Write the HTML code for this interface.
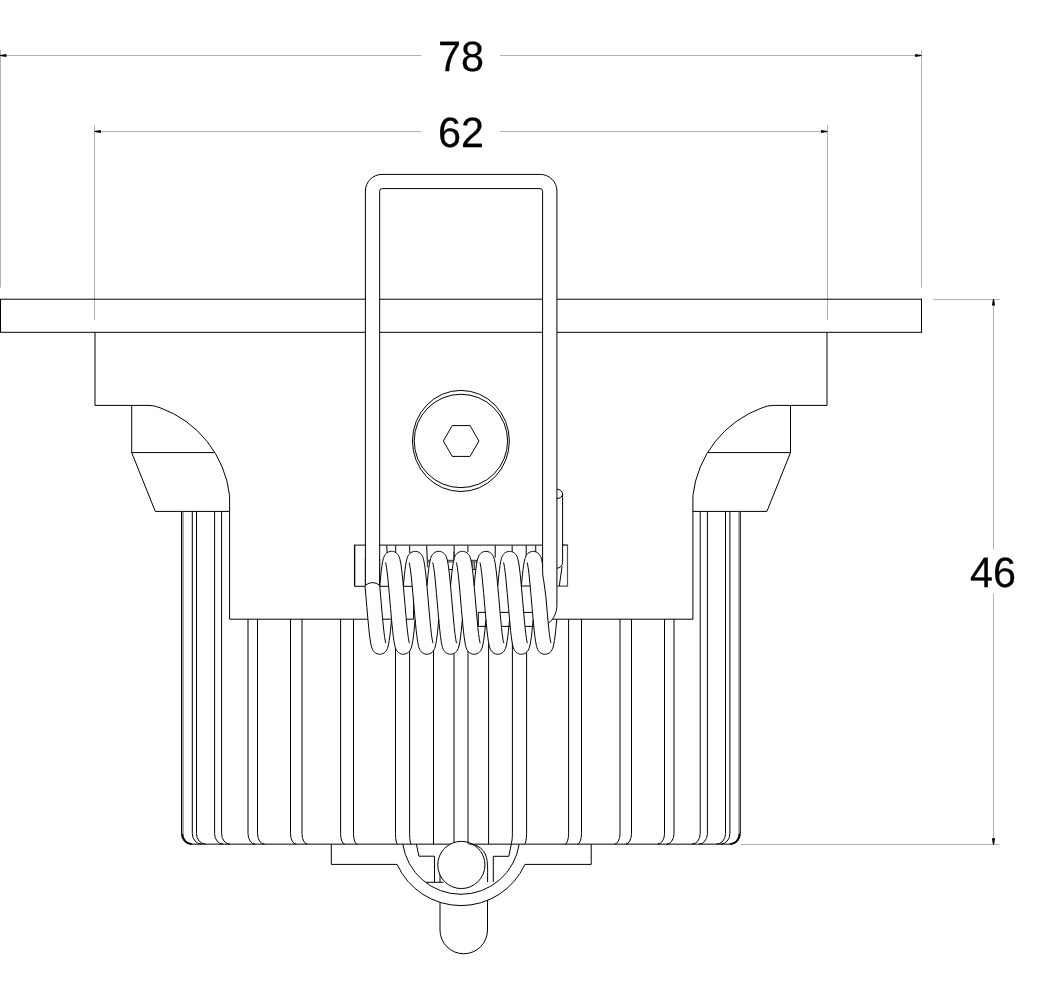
<!DOCTYPE html>
<html><head><meta charset="utf-8"><title>Drawing</title><style>
html,body{margin:0;padding:0;background:#fff;width:1043px;height:981px;overflow:hidden}
svg{display:block}
svg{will-change:transform}
.m{fill:none;stroke:#000;stroke-width:1}
.s{fill:none;stroke:#000;stroke-width:1;stroke-linejoin:round}
.mw{fill:#fff;stroke:#000;stroke-width:1}
.k{fill:none;stroke:#3a3a3a;stroke-width:1.3}
.g{fill:none;stroke:#505050;stroke-width:1.2}
.m2{fill:none;stroke:#000;stroke-width:1.6}
.g2{fill:none;stroke:#555;stroke-width:1}
.d{fill:none;stroke:#b2b2b2;stroke-width:1}
.a{fill:#000;stroke:none}
.w{fill:#fff;stroke:none}
.cov{fill:none;stroke:#fff;stroke-width:14.7;stroke-linecap:round;stroke-linejoin:round}
.t{font-family:"Liberation Sans",sans-serif;font-size:42.4px;text-rendering:geometricPrecision;fill:#000;stroke:#000;stroke-width:0.25px}
</style></head>
<body><svg width="1043" height="981" viewBox="0 0 1043 981">
<rect class="w" x="0" y="0" width="1043" height="981"/>
<path class="d" d="M1 55.5L421.4 55.5"/>
<path class="d" d="M499.9 55.5L921.5 55.5"/>
<path class="d" d="M0.5 50L0.5 287.5"/>
<path class="d" d="M921.5 50L921.5 287.5"/>
<path class="a" d="M0.1 56.1L6.4 57.05L6.4 53.95L0.1 54.9Z"/>
<path class="a" d="M921.4 54.9L915.1 53.95L915.1 57.05L921.4 56.1Z"/>
<path class="d" d="M94.5 131.5L421.4 131.5"/>
<path class="d" d="M499.9 131.5L827.5 131.5"/>
<path class="d" d="M94.5 125.2L94.5 320"/>
<path class="d" d="M827.5 125.2L827.5 320"/>
<path class="a" d="M94.6 132.1L100.9 133.05L100.9 129.95L94.6 130.9Z"/>
<path class="a" d="M827.4 130.9L821.1 129.95L821.1 133.05L827.4 132.1Z"/>
<path class="d" d="M993.5 299.5L993.5 549.5"/>
<path class="d" d="M993.5 593.3L993.5 844.5"/>
<path class="d" d="M933.3 299.5L999.8 299.5"/>
<path class="d" d="M740.5 844.5L999.3 844.5"/>
<path class="a" d="M992.9 299.3L991.95 305.6L995.05 305.6L994.1 299.3Z"/>
<path class="a" d="M994.1 844.6L995.05 838.3L991.95 838.3L992.9 844.6Z"/>
<text class="t" transform="translate(461.1 71.2) scale(0.976 1)" text-anchor="middle">78</text>
<text class="t" transform="translate(460.9 147.45) scale(0.976 1)" text-anchor="middle">62</text>
<text class="t" transform="translate(992.9 587.4) scale(0.976 1)" text-anchor="middle">46</text>
<rect class="m" x="0.5" y="299.2" width="921.0" height="33.10000000000002"/>
<path class="m" d="M95 332.3L95 405.4L149 405.4"/>
<path class="m" d="M149 405.4Q154.5 405.4 160 407.74A106.2 106.2 0 0 1 229.6 495.5"/>
<path class="m" d="M229.6 495.5L229.6 619.2"/>
<path class="m" d="M131.7 405.4L131.7 452.6L214.3 452.6"/>
<path class="m" d="M131.7 452.6L155.3 511.4L229.6 511.4"/>
<path class="m" d="M827 332.3L827 405.4L773.2 405.4"/>
<path class="m" d="M773.2 405.4Q767.7 405.4 762.2 407.74A106.2 106.2 0 0 0 692.9 495.5"/>
<path class="m" d="M692.9 495.5L692.9 619.2"/>
<path class="m" d="M790.5 405.4L790.5 452.6L707.9 452.6"/>
<path class="m" d="M790.5 452.6L766.9 511.4L692.6 511.4"/>
<path class="m" d="M229.6 619.2L692.9 619.2"/>
<path class="m" d="M181.5 511.5V833.55A9.6 10.6 0 0 0 191.1 844.15"/>
<path class="g2" d="M183 511.5V833.55A9.55 10.6 0 0 0 192.55 844.15"/>
<path class="m" d="M192.3 511.5V833.55A9.23 10.6 0 0 0 201.53 844.15"/>
<path class="m" d="M196.5 511.5V833.55A9.08 10.6 0 0 0 205.58 844.15"/>
<path class="m" d="M214.6 511.5V833.55A8.46 10.6 0 0 0 223.06 844.15"/>
<path class="m" d="M221.6 511.5V833.55A8.22 10.6 0 0 0 229.82 844.15"/>
<path class="m" d="M248 619.2V833.55A7.32 10.6 0 0 0 255.32 844.15"/>
<path class="m" d="M257.5 619.2V833.55A6.99 10.6 0 0 0 264.49 844.15"/>
<path class="m" d="M290.5 619.2V833.55A5.86 10.6 0 0 0 296.36 844.15"/>
<path class="m" d="M302 619.2V833.55A5.46 10.6 0 0 0 307.46 844.15"/>
<path class="m" d="M340.6 619.2V833.55A4.14 10.6 0 0 0 344.74 844.15"/>
<path class="m" d="M353.5 619.2V833.55A3.69 10.6 0 0 0 357.19 844.15"/>
<path class="m" d="M395.5 640V833.55A2.25 10.6 0 0 0 397.75 844.15"/>
<path class="m" d="M409.6 640V833.55A1.77 10.6 0 0 0 411.37 844.15"/>
<path class="m" d="M740.3 511.5V833.55A9.59 10.6 0 0 1 730.71 844.15"/>
<path class="g2" d="M739 511.5V833.55A9.54 10.6 0 0 1 729.46 844.15"/>
<path class="m" d="M729.9 511.5V833.55A9.23 10.6 0 0 1 720.67 844.15"/>
<path class="m" d="M725.5 511.5V833.55A9.08 10.6 0 0 1 716.42 844.15"/>
<path class="m" d="M707.4 511.5V833.55A8.46 10.6 0 0 1 698.94 844.15"/>
<path class="m" d="M700.2 511.5V833.55A8.21 10.6 0 0 1 691.99 844.15"/>
<path class="m" d="M674 619.2V833.55A7.31 10.6 0 0 1 666.69 844.15"/>
<path class="m" d="M664.5 619.2V833.55A6.98 10.6 0 0 1 657.52 844.15"/>
<path class="m" d="M631.5 619.2V833.55A5.85 10.6 0 0 1 625.65 844.15"/>
<path class="m" d="M620 619.2V833.55A5.46 10.6 0 0 1 614.54 844.15"/>
<path class="m" d="M581.5 619.2V833.55A4.13 10.6 0 0 1 577.37 844.15"/>
<path class="m" d="M568.6 619.2V833.55A3.69 10.6 0 0 1 564.91 844.15"/>
<path class="m" d="M526.6 640V833.55A2.25 10.6 0 0 1 524.35 844.15"/>
<path class="m" d="M512.4 640V833.55A1.76 10.6 0 0 1 510.64 844.15"/>
<path class="m2" d="M182.1 833.55A9.4 10.4 0 0 0 191.5 843.95"/>
<path class="m2" d="M739.7 833.55A9.4 10.4 0 0 1 730.3 843.95"/>
<path class="m" d="M433.5 640L433.5 844.15"/>
<path class="m" d="M454 640L454 844.15"/>
<path class="m" d="M468 640L468 844.15"/>
<path class="m" d="M488.6 640L488.6 844.15"/>
<path class="m" d="M190.5 844.15L330 844.15"/>
<path class="m" d="M592 844.15L731.5 844.15"/>
<path class="m" d="M440 895V930A23.75 23.75 0 0 0 487.5 930V895"/>
<path class="w" d="M397.07 864.4A70.2 70.2 0 0 0 524.93 864.4L519.2 844.15L402.8 844.15Z"/>
<path class="m" d="M330 844.15L592 844.15"/>
<path class="m" d="M331.3 844.15V864.4H397.07A70.2 70.2 0 0 0 524.93 864.4H591.2V844.15"/>
<path class="m" d="M402.8 844.15A58.85 58.85 0 0 0 519.2 844.15"/>
<path class="m" d="M416.4 844.15L418.9 856.2L434.5 856.2L434.5 882.1"/>
<path class="m" d="M511.3 844.15L508.8 856.3L493.3 856.3L493.3 882"/>
<path class="m" d="M426.4 882.3L443.5 882.3"/>
<path class="m" d="M440 874L440 882.3"/>
<circle class="mw" cx="461.35" cy="864.95" r="23.6"/>
<path class="m" d="M467.7 843.9C468.52 844 470.9 844.1 472.6 844.5C474.3 844.9 476.1 845.25 477.9 846.3C479.7 847.35 481.97 848.92 483.4 850.8C484.83 852.68 485.82 855.13 486.5 857.6C487.18 860.07 487.32 862.87 487.5 865.6C487.68 868.33 487.58 872.6 487.6 874V882"/>
<path class="k" d="M354.6 586.3V545.1H567.5"/>
<path class="g" d="M562.6 545H567.5V586.1H556.9"/>
<path class="m" d="M354.6 586.3L366 586.3"/>
<path class="m" d="M354.6 545L354.6 586.3"/>
<path class="w" d="M556.7 489.2A5.9 4.7 0 0 1 562.6 494V562.4C562.6 566 560 567.8 556.7 568.4Z"/>
<path class="m" d="M556.7 489.2A5.9 4.7 0 0 1 556.7 498.6"/>
<path class="m" d="M562.6 494V562.4C562.6 566 560 567.8 556.7 568.4"/>
<path class="m" d="M562.1 566.3L559.3 585.9"/>
<path class="k" d="M395.6 545L395.6 553"/>
<path class="k" d="M409.6 545L409.6 553"/>
<path class="k" d="M454.2 545L454.2 560.4"/>
<path class="k" d="M467.9 545L467.9 552"/>
<path class="k" d="M495.3 545L495.3 557.6"/>
<path class="k" d="M512.2 545L512.2 553"/>
<path class="k" d="M526.3 545L526.3 556"/>
<path class="k" d="M535.6 545L535.6 553"/>
<path class="k" d="M386.6 545L387.4 556"/>
<path class="k" d="M426.6 545L427.6 567.4"/>
<path class="g" d="M427.3 560.4L431 560.4"/>
<path class="g" d="M427.3 561.9L431 561.9"/>
<path class="g" d="M446 560.4L454 560.4"/>
<path class="g" d="M446 561.9L454 561.9"/>
<path class="m" d="M447 569.5L454 569.5"/>
<path class="g" d="M470 560.4L478 560.4"/>
<path class="g" d="M470 561.9L478 561.9"/>
<path class="m" d="M470 569.5L478 569.5"/>
<path class="g" d="M472.8 562L472.8 569.5"/>
<path class="g" d="M474.5 562L474.5 569.5"/>
<ellipse class="m" cx="460.9" cy="440.95" rx="48.45" ry="50.55"/>
<circle class="m" cx="460.9" cy="440.95" r="46.7"/>
<path class="m" d="M478.95 441L470.05 456.42L452.25 456.42L443.35 441L452.25 425.58L470.05 425.58Z"/>
<path class="w" d="M365.4 586V191A16.6 16.6 0 0 1 382 174.4H540.3A16.6 16.6 0 0 1 556.9 191V605.3C556.9 612 554 619 548.4 623.3L542.6 623V191.2A2.6 2.6 0 0 0 540 188.6H382.25A2.6 2.6 0 0 0 379.65 191.2V586Z"/>
<path class="m" d="M365.4 586V191A16.6 16.6 0 0 1 382 174.4H540.3A16.6 16.6 0 0 1 556.9 191V605.3C556.9 612 554 619 548.4 623.3"/>
<path class="m" d="M542.6 567V191.2A2.6 2.6 0 0 0 540 188.6H382.25A2.6 2.6 0 0 0 379.65 191.2V586"/>
<path class="cov" d="M372.34 585.5L372.56 587.9L372.78 590.36L373 592.86L373.22 595.39L373.44 597.95L373.66 600.52L373.88 603.1L374.1 605.68L374.32 608.25L374.54 610.81L374.76 613.33L374.98 615.82L375.2 618.26L375.42 620.66L375.64 622.99L375.86 625.25L376.08 627.43L376.3 629.53L376.52 631.54L376.74 633.45L376.96 635.25L377.18 636.94L377.4 638.52L377.62 639.97L377.84 641.3L378.06 642.49L378.28 643.55L378.5 644.46L378.72 645.24L378.94 645.87L379.16 646.35L379.38 646.68L379.6 646.86L379.82 646.89L380.04 646.77L380.26 646.5L380.48 646.08L380.7 645.51L380.92 644.79L381.14 643.93L381.36 642.93L381.58 641.79L381.8 640.52L382.02 639.12L382.24 637.59L382.46 635.95L382.68 634.19L382.9 632.32L383.12 630.35L383.34 628.29L383.56 626.14L383.78 623.91L384 621.6L384.22 619.24L384.44 616.81L384.66 614.34L384.88 611.83L385.1 609.29L385.32 606.72L385.54 604.14L385.76 601.56L385.98 598.98L386.2 596.42L386.42 593.88L386.64 591.36L386.86 588.89L387.08 586.46L387.3 584.09L387.52 581.79L387.74 579.55L387.96 577.4L388.18 575.33L388.4 573.36L388.62 571.49L388.84 569.73L389.06 568.07L389.28 566.54L389.5 565.14L389.72 563.86L389.94 562.71L390.16 561.71L390.38 560.84L390.6 560.12L390.82 559.54L391.04 559.11L391.26 558.84L391.48 558.71L391.7 558.73L391.92 558.91L392.14 559.23L392.36 559.71L392.58 560.33L392.8 561.1L393.02 562.01L393.24 563.06L393.46 564.25L393.68 565.57L393.9 567.02L394.12 568.59L394.34 570.28L394.56 572.08L394.78 573.98L395 575.99L395.22 578.08L395.44 580.26L395.66 582.52L395.88 584.85L396.1 587.24L396.32 589.68L396.54 592.16L396.76 594.69L396.98 597.24L397.2 599.81L397.42 602.39L397.64 604.97L397.86 607.55L398.08 610.11L398.3 612.64L398.52 615.14L398.74 617.6L398.96 620L399.18 622.35L399.4 624.63L399.62 626.84L399.84 628.96L400.06 630.99L400.27 632.93L400.49 634.76L400.71 636.49L400.93 638.09L401.15 639.58L401.37 640.94L401.59 642.17L401.81 643.27L402.03 644.22L402.25 645.04L402.47 645.71L402.69 646.23L402.91 646.6L403.13 646.83L403.35 646.9L403.57 646.82L403.79 646.59L404.01 646.21L404.23 645.68L404.45 645.01L404.67 644.18L404.89 643.22L405.11 642.12L405.33 640.88L405.55 639.52L405.77 638.02L405.99 636.41L406.21 634.68L406.43 632.84L406.65 630.9L406.87 628.87L407.09 626.74L407.31 624.53L407.53 622.25L407.75 619.9L407.97 617.49L408.19 615.03L408.41 612.53L408.63 609.99L408.85 607.43L409.07 604.86L409.29 602.27L409.51 599.69L409.73 597.12L409.95 594.57L410.17 592.05L410.39 589.57L410.61 587.13L410.83 584.74L411.05 582.42L411.27 580.16L411.49 577.99L411.71 575.89L411.93 573.9L412.15 572L412.37 570.2L412.59 568.52L412.81 566.95L413.03 565.51L413.25 564.2L413.47 563.01L413.69 561.97L413.91 561.06L414.13 560.3L414.35 559.69L414.57 559.22L414.79 558.9L415.01 558.73L415.23 558.71L415.45 558.84L415.67 559.13L415.89 559.56L416.11 560.15L416.33 560.87L416.55 561.75L416.77 562.76L416.99 563.91L417.21 565.2L417.43 566.61L417.65 568.15L417.87 569.8L418.09 571.57L418.31 573.45L418.53 575.42L418.75 577.49L418.97 579.65L419.19 581.89L419.41 584.2L419.63 586.57L419.85 589L420.07 591.47L420.29 593.99L420.51 596.53L420.73 599.1L420.95 601.68L421.17 604.26L421.39 606.84L421.61 609.4L421.83 611.94L422.05 614.45L422.27 616.92L422.49 619.34L422.71 621.71L422.93 624.01L423.15 626.23L423.37 628.38L423.59 630.44L423.81 632.4L424.03 634.27L424.25 636.02L424.47 637.66L424.69 639.18L424.91 640.58L425.13 641.85L425.35 642.98L425.57 643.97L425.79 644.83L426.01 645.54L426.23 646.1L426.45 646.52L426.67 646.78L426.89 646.9L427.11 646.86L427.33 646.67L427.55 646.33L427.77 645.84L427.99 645.21L428.21 644.43L428.43 643.5L428.65 642.44L428.87 641.24L429.09 639.91L429.31 638.45L429.53 636.87L429.75 635.17L429.97 633.36L430.19 631.45L430.41 629.44L430.63 627.33L430.85 625.15L431.07 622.88L431.29 620.55L431.51 618.16L431.73 615.71L431.95 613.22L432.17 610.69L432.39 608.14L432.61 605.57L432.83 602.99L433.05 600.41L433.27 597.83L433.49 595.28L433.71 592.75L433.93 590.25L434.15 587.8L434.37 585.39L434.59 583.05L434.81 580.78L435.03 578.58L435.25 576.46L435.47 574.44L435.69 572.51L435.91 570.69L436.13 568.97L436.35 567.37L436.57 565.9L436.79 564.55L437.01 563.33L437.23 562.24L437.45 561.3L437.67 560.5L437.89 559.84L438.11 559.33L438.33 558.97L438.55 558.76L438.77 558.7L438.99 558.79L439.21 559.04L439.43 559.43L439.65 559.97L439.87 560.66L440.09 561.49L440.31 562.47L440.53 563.58L440.75 564.83L440.97 566.21L441.19 567.71L441.41 569.33L441.63 571.07L441.85 572.92L442.07 574.87L442.29 576.91L442.51 579.05L442.73 581.26L442.95 583.55L443.17 585.91L443.39 588.32L443.61 590.79L443.83 593.29L444.05 595.83L444.27 598.39L444.49 600.96L444.71 603.55L444.93 606.13L445.15 608.7L445.37 611.24L445.59 613.76L445.81 616.24L446.03 618.68L446.25 621.06L446.47 623.38L446.69 625.63L446.91 627.8L447.13 629.88L447.35 631.87L447.57 633.76L447.79 635.55L448.01 637.22L448.23 638.78L448.45 640.21L448.67 641.51L448.89 642.68L449.11 643.71L449.33 644.61L449.55 645.36L449.77 645.96L449.99 646.42L450.21 646.72L450.43 646.88L450.65 646.88L450.87 646.74L451.09 646.44L451.31 645.99L451.53 645.4L451.75 644.66L451.97 643.77L452.19 642.75L452.41 641.58L452.63 640.29L452.85 638.86L453.07 637.32L453.29 635.65L453.51 633.87L453.73 631.99L453.95 630L454.17 627.92L454.39 625.76L454.61 623.52L454.83 621.2L455.05 618.82L455.27 616.39L455.49 613.91L455.71 611.39L455.93 608.85L456.15 606.28L456.37 603.7L456.59 601.12L456.81 598.54L457.03 595.98L457.25 593.44L457.47 590.93L457.69 588.47L457.91 586.05L458.13 583.69L458.35 581.4L458.57 579.18L458.79 577.04L459.01 574.99L459.23 573.03L459.45 571.18L459.67 569.43L459.89 567.8L460.11 566.29L460.33 564.91L460.55 563.65L460.77 562.53L460.99 561.55L461.21 560.7L461.43 560.01L461.65 559.46L461.87 559.05L462.09 558.8L462.31 558.7L462.53 558.75L462.75 558.95L462.97 559.31L463.19 559.81L463.41 560.45L463.63 561.25L463.85 562.18L464.07 563.26L464.29 564.47L464.51 565.81L464.73 567.28L464.95 568.87L465.17 570.58L465.39 572.4L465.61 574.32L465.83 576.34L466.05 578.45L466.27 580.64L466.49 582.91L466.71 585.25L466.93 587.65L467.15 590.1L467.37 592.6L467.59 595.12L467.81 597.68L468.03 600.25L468.25 602.83L468.47 605.42L468.69 607.99L468.91 610.54L469.13 613.07L469.35 615.56L469.57 618.01L469.79 620.41L470.01 622.75L470.23 625.01L470.45 627.21L470.67 629.31L470.89 631.33L471.11 633.25L471.33 635.07L471.55 636.77L471.77 638.36L471.99 639.82L472.21 641.16L472.43 642.37L472.65 643.44L472.87 644.37L473.09 645.16L473.31 645.81L473.53 646.31L473.75 646.65L473.97 646.85L474.19 646.9L474.41 646.79L474.63 646.54L474.85 646.13L475.07 645.58L475.29 644.87L475.51 644.03L475.73 643.04L475.95 641.92L476.17 640.66L476.39 639.27L476.61 637.76L476.83 636.12L477.05 634.37L477.27 632.52L477.49 630.56L477.71 628.51L477.93 626.36L478.15 624.14L478.37 621.85L478.59 619.49L478.81 617.07L479.03 614.6L479.25 612.09L479.47 609.55L479.69 606.99L479.91 604.41L480.13 601.83L480.35 599.25L480.57 596.68L480.79 594.14L481.01 591.62L481.23 589.14L481.45 586.71L481.67 584.34L481.89 582.02L482.11 579.78L482.33 577.62L482.55 575.54L482.77 573.56L482.99 571.68L483.21 569.9L483.43 568.24L483.65 566.7L483.87 565.28L484.09 563.98L484.31 562.83L484.53 561.8L484.75 560.92L484.97 560.19L485.19 559.59L485.41 559.15L485.63 558.86L485.85 558.71L486.07 558.72L486.29 558.88L486.51 559.19L486.73 559.65L486.95 560.26L487.17 561.01L487.39 561.91L487.61 562.95L487.83 564.12L488.05 565.43L488.27 566.86L488.49 568.42L488.71 570.1L488.93 571.89L489.15 573.78L489.37 575.77L489.59 577.86L489.81 580.03L490.03 582.28L490.25 584.6L490.47 586.98L490.69 589.42L490.91 591.9L491.13 594.42L491.35 596.97L491.57 599.54L491.79 602.12L492.01 604.7L492.23 607.28L492.45 609.84L492.67 612.38L492.89 614.88L493.11 617.34L493.33 619.75L493.55 622.11L493.77 624.4L493.99 626.61L494.21 628.74L494.43 630.78L494.65 632.73L494.87 634.58L495.09 636.31L495.31 637.93L495.53 639.43L495.75 640.81L495.97 642.05L496.19 643.16L496.41 644.13L496.63 644.96L496.85 645.65L497.07 646.18L497.29 646.57L497.51 646.81L497.73 646.9L497.95 646.84L498.17 646.62L498.39 646.26L498.61 645.74L498.83 645.08L499.05 644.28L499.27 643.33L499.49 642.24L499.71 641.02L499.93 639.67L500.15 638.19L500.37 636.58L500.59 634.87L500.81 633.04L501.03 631.11L501.25 629.08L501.47 626.96L501.69 624.76L501.91 622.49L502.13 620.14L502.35 617.74L502.57 615.29L502.79 612.79L503.01 610.26L503.23 607.7L503.45 605.13L503.67 602.54L503.89 599.96L504.11 597.39L504.33 594.84L504.55 592.31L504.77 589.82L504.99 587.38L505.21 584.99L505.43 582.66L505.65 580.39L505.87 578.21L506.09 576.11L506.31 574.1L506.53 572.19L506.75 570.38L506.97 568.69L507.19 567.11L507.41 565.66L507.63 564.33L507.85 563.13L508.07 562.07L508.29 561.15L508.51 560.37L508.73 559.74L508.95 559.26L509.17 558.92L509.39 558.74L509.61 558.71L509.83 558.82L510.05 559.09L510.27 559.51L510.49 560.08L510.71 560.79L510.93 561.65L511.15 562.65L511.37 563.79L511.59 565.06L511.81 566.46L512.03 567.98L512.25 569.62L512.47 571.38L512.69 573.25L512.91 575.21L513.13 577.27L513.35 579.42L513.57 581.65L513.79 583.95L514.01 586.32L514.23 588.74L514.45 591.21L514.67 593.72L514.89 596.27L515.11 598.83L515.33 601.41L515.55 603.99L515.77 606.57L515.99 609.14L516.21 611.68L516.43 614.19L516.65 616.67L516.87 619.09L517.09 621.46L517.31 623.77L517.53 626.01L517.75 628.16L517.97 630.23L518.19 632.2L518.41 634.08L518.63 635.84L518.85 637.5L519.07 639.03L519.29 640.44L519.51 641.72L519.73 642.87L519.95 643.88L520.17 644.75L520.39 645.47L520.61 646.05L520.83 646.48L521.05 646.76L521.27 646.89L521.49 646.87L521.71 646.7L521.93 646.37L522.15 645.9L522.37 645.28L522.59 644.51L522.81 643.6L523.03 642.56L523.25 641.37L523.47 640.05L523.69 638.61L523.91 637.04L524.13 635.35L524.35 633.56L524.57 631.65L524.79 629.65L525.01 627.56L525.23 625.38L525.45 623.12L525.67 620.8L525.89 618.41L526.11 615.97L526.33 613.48L526.55 610.96L526.77 608.41L526.99 605.84L527.21 603.26L527.43 600.67L527.65 598.1L527.87 595.54L528.09 593.01L528.31 590.51L528.53 588.05L528.75 585.64L528.97 583.29L529.19 581.01L529.41 578.8L529.63 576.68L529.85 574.64L530.07 572.71L530.29 570.87L530.51 569.14L530.73 567.53L530.95 566.04L531.17 564.68L531.39 563.45L531.61 562.35L531.83 561.39L532.05 560.57L532.27 559.9L532.49 559.38L532.71 559L532.93 558.77L533.15 558.7L533.37 558.78L533.59 559L533.81 559.38L534.03 559.91L534.25 560.58L534.47 561.4L534.69 562.36L534.91 563.46L535.13 564.69L535.35 566.06L535.57 567.55L535.79 569.16L536.01 570.89L536.23 572.72L536.45 574.66L536.67 576.7L536.89 578.82L537.11 581.03L537.33 583.31L537.55 585.66L537.77 588.07L537.99 590.53L538.21 593.03L538.43 595.56L538.65 598.12L538.87 600.7L539.09 603.28L539.31 605.86L539.53 608.43L539.75 610.98L539.97 613.5L540.19 615.99L540.41 618.43L540.63 620.82L540.85 623.14L541.07 625.4L541.29 627.57L541.51 629.67L541.73 631.67L541.95 633.57L542.17 635.37L542.39 637.05L542.61 638.62L542.83 640.06L543.05 641.38L543.27 642.56L543.49 643.61L543.71 644.52L543.93 645.29L544.15 645.9L544.37 646.38L544.59 646.7L544.81 646.87L545.03 646.89L545.25 646.76L545.47 646.48L545.69 646.05L545.91 645.47L546.13 644.74L546.35 643.87L546.57 642.86L546.79 641.71L547.01 640.43L547.23 639.02L547.45 637.48L547.67 635.83L547.89 634.06L548.11 632.19L548.33 630.21"/>
<path class="m" d="M379.7 586.3L390 586.3"/>
<path class="m" d="M403 586.3L413.5 586.3"/>
<path class="m" d="M521.5 586L531 586"/>
<path class="m" d="M382 619.2L392.5 619.2"/>
<path class="m" d="M405 619.2L413.6 619.2"/>
<path class="m" d="M413.6 586.3L413.6 619.2"/>
<path class="m" d="M540 612.4H478.3V626.4H540"/>
<path class="cov" d="M372.34 585.5L372.46 586.84L372.58 588.2L372.71 589.58L372.83 590.97L372.95 592.38L373.08 593.79L373.2 595.22L373.32 596.65L373.45 598.09L373.57 599.53L373.7 600.98L373.82 602.43L373.94 603.88L374.07 605.33L374.19 606.78L374.31 608.22L374.44 609.66L374.56 611.09L374.68 612.51L374.81 613.92L374.93 615.32L375.05 616.7L375.18 618.07L375.3 619.42L375.43 620.76L375.55 622.07L375.67 623.37L375.8 624.64L375.92 625.89L376.04 627.11L376.17 628.31L376.29 629.48L376.41 630.62L376.54 631.73L376.66 632.81L376.78 633.85L376.91 634.87L377.03 635.84L377.16 636.79L377.28 637.69L377.4 638.56L377.53 639.39L377.65 640.18L377.77 640.93L377.9 641.64L378.02 642.3L378.14 642.93L378.27 643.51L378.39 644.04L378.51 644.53L378.64 644.98L378.76 645.38L378.89 645.74L379.01 646.04L379.13 646.3L379.26 646.52L379.38 646.69L379.5 646.8L379.63 646.88L379.75 646.9"/>
<path class="cov" d="M391.55 558.7L391.75 558.76L391.94 558.94L392.14 559.24L392.34 559.66L392.53 560.2L392.73 560.86L392.93 561.63L393.12 562.51L393.32 563.51L393.52 564.61L393.71 565.81L393.91 567.12L394.11 568.53L394.3 570.03L394.5 571.62L394.7 573.29L394.89 575.05L395.09 576.88L395.29 578.78L395.48 580.75L395.68 582.78L395.88 584.86L396.07 587L396.27 589.17L396.47 591.39L396.66 593.63L396.86 595.9L397.06 598.19L397.25 600.49L397.45 602.8L397.65 605.11L397.84 607.41L398.04 609.7L398.24 611.97L398.43 614.21L398.63 616.43L398.83 618.6L399.02 620.74L399.22 622.82L399.42 624.85L399.61 626.82L399.81 628.72L400.01 630.55L400.2 632.31L400.4 633.98L400.6 635.57L400.79 637.07L400.99 638.48L401.19 639.79L401.38 640.99L401.58 642.09L401.78 643.09L401.97 643.97L402.17 644.74L402.37 645.4L402.56 645.94L402.76 646.36L402.96 646.66L403.15 646.84L403.35 646.9"/>
<path class="cov" d="M415.15 558.7L415.35 558.76L415.54 558.94L415.74 559.24L415.94 559.66L416.13 560.2L416.33 560.86L416.53 561.63L416.72 562.51L416.92 563.51L417.12 564.61L417.31 565.81L417.51 567.12L417.71 568.53L417.9 570.03L418.1 571.62L418.3 573.29L418.49 575.05L418.69 576.88L418.89 578.78L419.08 580.75L419.28 582.78L419.48 584.86L419.67 587L419.87 589.17L420.07 591.39L420.26 593.63L420.46 595.9L420.66 598.19L420.85 600.49L421.05 602.8L421.25 605.11L421.44 607.41L421.64 609.7L421.84 611.97L422.03 614.21L422.23 616.43L422.43 618.6L422.62 620.74L422.82 622.82L423.02 624.85L423.21 626.82L423.41 628.72L423.61 630.55L423.8 632.31L424 633.98L424.2 635.57L424.39 637.07L424.59 638.48L424.79 639.79L424.98 640.99L425.18 642.09L425.38 643.09L425.57 643.97L425.77 644.74L425.97 645.4L426.16 645.94L426.36 646.36L426.56 646.66L426.75 646.84L426.95 646.9"/>
<path class="cov" d="M438.75 558.7L438.95 558.76L439.14 558.94L439.34 559.24L439.54 559.66L439.73 560.2L439.93 560.86L440.13 561.63L440.32 562.51L440.52 563.51L440.72 564.61L440.91 565.81L441.11 567.12L441.31 568.53L441.5 570.03L441.7 571.62L441.9 573.29L442.09 575.05L442.29 576.88L442.49 578.78L442.68 580.75L442.88 582.78L443.08 584.86L443.27 587L443.47 589.17L443.67 591.39L443.86 593.63L444.06 595.9L444.26 598.19L444.45 600.49L444.65 602.8L444.85 605.11L445.04 607.41L445.24 609.7L445.44 611.97L445.63 614.21L445.83 616.43L446.03 618.6L446.22 620.74L446.42 622.82L446.62 624.85L446.81 626.82L447.01 628.72L447.21 630.55L447.4 632.31L447.6 633.98L447.8 635.57L447.99 637.07L448.19 638.48L448.39 639.79L448.58 640.99L448.78 642.09L448.98 643.09L449.17 643.97L449.37 644.74L449.57 645.4L449.76 645.94L449.96 646.36L450.16 646.66L450.35 646.84L450.55 646.9"/>
<path class="cov" d="M462.35 558.7L462.55 558.76L462.74 558.94L462.94 559.24L463.14 559.66L463.33 560.2L463.53 560.86L463.73 561.63L463.92 562.51L464.12 563.51L464.32 564.61L464.51 565.81L464.71 567.12L464.91 568.53L465.1 570.03L465.3 571.62L465.5 573.29L465.69 575.05L465.89 576.88L466.09 578.78L466.28 580.75L466.48 582.78L466.68 584.86L466.87 587L467.07 589.17L467.27 591.39L467.46 593.63L467.66 595.9L467.86 598.19L468.05 600.49L468.25 602.8L468.45 605.11L468.64 607.41L468.84 609.7L469.04 611.97L469.23 614.21L469.43 616.43L469.63 618.6L469.82 620.74L470.02 622.82L470.22 624.85L470.41 626.82L470.61 628.72L470.81 630.55L471 632.31L471.2 633.98L471.4 635.57L471.59 637.07L471.79 638.48L471.99 639.79L472.18 640.99L472.38 642.09L472.58 643.09L472.77 643.97L472.97 644.74L473.17 645.4L473.36 645.94L473.56 646.36L473.76 646.66L473.95 646.84L474.15 646.9"/>
<path class="cov" d="M485.95 558.7L486.15 558.76L486.34 558.94L486.54 559.24L486.74 559.66L486.93 560.2L487.13 560.86L487.33 561.63L487.52 562.51L487.72 563.51L487.92 564.61L488.11 565.81L488.31 567.12L488.51 568.53L488.7 570.03L488.9 571.62L489.1 573.29L489.29 575.05L489.49 576.88L489.69 578.78L489.88 580.75L490.08 582.78L490.28 584.86L490.47 587L490.67 589.17L490.87 591.39L491.06 593.63L491.26 595.9L491.46 598.19L491.65 600.49L491.85 602.8L492.05 605.11L492.24 607.41L492.44 609.7L492.64 611.97L492.83 614.21L493.03 616.43L493.23 618.6L493.42 620.74L493.62 622.82L493.82 624.85L494.01 626.82L494.21 628.72L494.41 630.55L494.6 632.31L494.8 633.98L495 635.57L495.19 637.07L495.39 638.48L495.59 639.79L495.78 640.99L495.98 642.09L496.18 643.09L496.37 643.97L496.57 644.74L496.77 645.4L496.96 645.94L497.16 646.36L497.36 646.66L497.55 646.84L497.75 646.9"/>
<path class="cov" d="M509.55 558.7L509.75 558.76L509.94 558.94L510.14 559.24L510.34 559.66L510.53 560.2L510.73 560.86L510.93 561.63L511.12 562.51L511.32 563.51L511.52 564.61L511.71 565.81L511.91 567.12L512.11 568.53L512.3 570.03L512.5 571.62L512.7 573.29L512.89 575.05L513.09 576.88L513.29 578.78L513.48 580.75L513.68 582.78L513.88 584.86L514.07 587L514.27 589.17L514.47 591.39L514.66 593.63L514.86 595.9L515.06 598.19L515.25 600.49L515.45 602.8L515.65 605.11L515.84 607.41L516.04 609.7L516.24 611.97L516.43 614.21L516.63 616.43L516.83 618.6L517.02 620.74L517.22 622.82L517.42 624.85L517.61 626.82L517.81 628.72L518.01 630.55L518.2 632.31L518.4 633.98L518.6 635.57L518.79 637.07L518.99 638.48L519.19 639.79L519.38 640.99L519.58 642.09L519.78 643.09L519.97 643.97L520.17 644.74L520.37 645.4L520.56 645.94L520.76 646.36L520.96 646.66L521.15 646.84L521.35 646.9"/>
<path class="cov" d="M533.15 558.7L533.35 558.76L533.54 558.94L533.74 559.24L533.94 559.66L534.13 560.2L534.33 560.86L534.53 561.63L534.72 562.51L534.92 563.51L535.12 564.61L535.31 565.81L535.51 567.12L535.71 568.53L535.9 570.03L536.1 571.62L536.3 573.29L536.49 575.05L536.69 576.88L536.89 578.78L537.08 580.75L537.28 582.78L537.48 584.86L537.67 587L537.87 589.17L538.07 591.39L538.26 593.63L538.46 595.9L538.66 598.19L538.85 600.49L539.05 602.8L539.25 605.11L539.44 607.41L539.64 609.7L539.84 611.97L540.03 614.21L540.23 616.43L540.43 618.6L540.62 620.74L540.82 622.82L541.02 624.85L541.21 626.82L541.41 628.72L541.61 630.55L541.8 632.31L542 633.98L542.2 635.57L542.39 637.07L542.59 638.48L542.79 639.79L542.98 640.99L543.18 642.09L543.38 643.09L543.57 643.97L543.77 644.74L543.97 645.4L544.16 645.94L544.36 646.36L544.56 646.66L544.75 646.84L544.95 646.9"/>
<path class="w" d="M365.4 560V586L379.65 586V560Z"/>
<path class="m" d="M365.4 559L365.4 586.2"/>
<path class="m" d="M379.65 559L379.65 586.2"/>
<path class="m" d="M365.4 585.2Q372.5 579.9 379.65 585.2"/>
<path class="s" d="M379.65 584.82L380.48 594.07L381.3 603.66L382.12 613.16L382.93 622.1L383.74 630.03L384.54 636.54L385.29 641.18L385.77 643.17"/>
<path class="s" d="M365.02 586.18L365.94 596.56L366.87 607.41L367.8 618.05L368.73 627.86L369.68 636.28L370.16 639.84L370.66 642.94L371.21 645.6L371.88 647.98L372.38 649.23L373.24 650.75L374 651.69L374.53 652.22L375.21 652.77L376.07 653.31L377.13 653.79L378.38 654.13L379.75 654.25L380.58 654.2L381.39 654.07L382.84 653.6L383.99 652.98L384.87 652.31L385.52 651.67L386.01 651.08L386.69 650.07L387.45 648.44L387.93 647L388.64 643.98L389.26 640.39L389.84 636.12L390.42 631.19L391.55 619.74"/>
<path class="s" d="M379.75 585.86L380.88 574.41L381.46 569.48L382.04 565.21L382.66 561.62L383.37 558.6L383.85 557.16L384.61 555.53L385.29 554.52L385.78 553.93L386.43 553.29L387.31 552.62L388.46 552L389.91 551.53L390.72 551.4L391.55 551.35L392.57 551.42L393.53 551.61L394.41 551.9L395.19 552.26L396.4 553.07L397.26 553.86L397.86 554.58L398.3 555.21L398.89 556.3L399.59 558.12L400.07 559.89L400.86 563.94L401.58 568.97L402.28 574.98L402.97 581.83L404.35 597.19L405.72 613.12L407.07 627.5L407.74 633.48L408.4 638.31L409 641.73L409.37 643.17"/>
<path class="s" d="M385.53 562.43L385.9 563.87L386.5 567.29L387.16 572.12L387.83 578.1L389.18 592.48L390.55 608.41L391.93 623.77L392.62 630.62L393.32 636.63L394.04 641.66L394.83 645.71L395.31 647.48L396.01 649.3L396.6 650.39L397.04 651.02L397.64 651.74L398.5 652.53L399.71 653.34L400.49 653.7L401.37 653.99L402.33 654.18L403.35 654.25L404.18 654.2L404.99 654.07L406.44 653.6L407.59 652.98L408.47 652.31L409.12 651.67L409.61 651.08L410.29 650.07L411.05 648.44L411.53 647L412.24 643.98L412.86 640.39L413.44 636.12L414.02 631.19L415.15 619.74"/>
<path class="s" d="M403.35 585.86L404.48 574.41L405.06 569.48L405.64 565.21L406.26 561.62L406.97 558.6L407.45 557.16L408.21 555.53L408.89 554.52L409.38 553.93L410.03 553.29L410.91 552.62L412.06 552L413.51 551.53L414.32 551.4L415.15 551.35L416.17 551.42L417.13 551.61L418.01 551.9L418.79 552.26L420 553.07L420.86 553.86L421.46 554.58L421.9 555.21L422.49 556.3L423.19 558.12L423.67 559.89L424.46 563.94L425.18 568.97L425.88 574.98L426.57 581.83L427.95 597.19L429.32 613.12L430.67 627.5L431.34 633.48L432 638.31L432.6 641.73L432.97 643.17"/>
<path class="s" d="M409.13 562.43L409.5 563.87L410.1 567.29L410.76 572.12L411.43 578.1L412.78 592.48L414.15 608.41L415.53 623.77L416.22 630.62L416.92 636.63L417.64 641.66L418.43 645.71L418.91 647.48L419.61 649.3L420.2 650.39L420.64 651.02L421.24 651.74L422.1 652.53L423.31 653.34L424.09 653.7L424.97 653.99L425.93 654.18L426.95 654.25L427.78 654.2L428.59 654.07L430.04 653.6L431.19 652.98L432.07 652.31L432.72 651.67L433.21 651.08L433.89 650.07L434.65 648.44L435.13 647L435.84 643.98L436.46 640.39L437.04 636.12L437.62 631.19L438.75 619.74"/>
<path class="s" d="M426.95 585.86L428.08 574.41L428.66 569.48L429.24 565.21L429.86 561.62L430.57 558.6L431.05 557.16L431.81 555.53L432.49 554.52L432.98 553.93L433.63 553.29L434.51 552.62L435.66 552L437.11 551.53L437.92 551.4L438.75 551.35L439.77 551.42L440.73 551.61L441.61 551.9L442.39 552.26L443.6 553.07L444.46 553.86L445.06 554.58L445.5 555.21L446.09 556.3L446.79 558.12L447.27 559.89L448.06 563.94L448.78 568.97L449.48 574.98L450.17 581.83L451.55 597.19L452.92 613.12L454.27 627.5L454.94 633.48L455.6 638.31L456.2 641.73L456.57 643.17"/>
<path class="s" d="M432.73 562.43L433.1 563.87L433.7 567.29L434.36 572.12L435.03 578.1L436.38 592.48L437.75 608.41L439.13 623.77L439.82 630.62L440.52 636.63L441.24 641.66L442.03 645.71L442.51 647.48L443.21 649.3L443.8 650.39L444.24 651.02L444.84 651.74L445.7 652.53L446.91 653.34L447.69 653.7L448.57 653.99L449.53 654.18L450.55 654.25L451.38 654.2L452.19 654.07L453.64 653.6L454.79 652.98L455.67 652.31L456.32 651.67L456.81 651.08L457.49 650.07L458.25 648.44L458.73 647L459.44 643.98L460.06 640.39L460.64 636.12L461.22 631.19L462.35 619.74"/>
<path class="s" d="M450.55 585.86L451.68 574.41L452.26 569.48L452.84 565.21L453.46 561.62L454.17 558.6L454.65 557.16L455.41 555.53L456.09 554.52L456.58 553.93L457.23 553.29L458.11 552.62L459.26 552L460.71 551.53L461.52 551.4L462.35 551.35L463.37 551.42L464.33 551.61L465.21 551.9L465.99 552.26L467.2 553.07L468.06 553.86L468.66 554.58L469.1 555.21L469.69 556.3L470.39 558.12L470.87 559.89L471.66 563.94L472.38 568.97L473.08 574.98L473.77 581.83L475.15 597.19L476.52 613.12L477.87 627.5L478.54 633.48L479.2 638.31L479.8 641.73L480.17 643.17"/>
<path class="s" d="M456.33 562.43L456.7 563.87L457.3 567.29L457.96 572.12L458.63 578.1L459.98 592.48L461.35 608.41L462.73 623.77L463.42 630.62L464.12 636.63L464.84 641.66L465.63 645.71L466.11 647.48L466.81 649.3L467.4 650.39L467.84 651.02L468.44 651.74L469.3 652.53L470.51 653.34L471.29 653.7L472.17 653.99L473.13 654.18L474.15 654.25L474.98 654.2L475.79 654.07L477.24 653.6L478.39 652.98L479.27 652.31L479.92 651.67L480.41 651.08L481.09 650.07L481.85 648.44L482.33 647L483.04 643.98L483.66 640.39L484.24 636.12L484.82 631.19L485.95 619.74"/>
<path class="s" d="M474.15 585.86L475.28 574.41L475.86 569.48L476.44 565.21L477.06 561.62L477.77 558.6L478.25 557.16L479.01 555.53L479.69 554.52L480.18 553.93L480.83 553.29L481.71 552.62L482.86 552L484.31 551.53L485.12 551.4L485.95 551.35L486.97 551.42L487.93 551.61L488.81 551.9L489.59 552.26L490.8 553.07L491.66 553.86L492.26 554.58L492.7 555.21L493.29 556.3L493.99 558.12L494.47 559.89L495.26 563.94L495.98 568.97L496.68 574.98L497.37 581.83L498.75 597.19L500.12 613.12L501.47 627.5L502.14 633.48L502.8 638.31L503.4 641.73L503.77 643.17"/>
<path class="s" d="M479.93 562.43L480.3 563.87L480.9 567.29L481.56 572.12L482.23 578.1L483.58 592.48L484.95 608.41L486.33 623.77L487.02 630.62L487.72 636.63L488.44 641.66L489.23 645.71L489.71 647.48L490.41 649.3L491 650.39L491.44 651.02L492.04 651.74L492.9 652.53L494.11 653.34L494.89 653.7L495.77 653.99L496.73 654.18L497.75 654.25L498.58 654.2L499.39 654.07L500.84 653.6L501.99 652.98L502.87 652.31L503.52 651.67L504.01 651.08L504.69 650.07L505.45 648.44L505.93 647L506.64 643.98L507.26 640.39L507.84 636.12L508.42 631.19L509.55 619.74"/>
<path class="s" d="M497.75 585.86L498.88 574.41L499.46 569.48L500.04 565.21L500.66 561.62L501.37 558.6L501.85 557.16L502.61 555.53L503.29 554.52L503.78 553.93L504.43 553.29L505.31 552.62L506.46 552L507.91 551.53L508.72 551.4L509.55 551.35L510.57 551.42L511.53 551.61L512.41 551.9L513.19 552.26L514.4 553.07L515.26 553.86L515.86 554.58L516.3 555.21L516.89 556.3L517.59 558.12L518.07 559.89L518.86 563.94L519.58 568.97L520.28 574.98L520.97 581.83L522.35 597.19L523.72 613.12L525.07 627.5L525.74 633.48L526.4 638.31L527 641.73L527.37 643.17"/>
<path class="s" d="M503.53 562.43L503.9 563.87L504.5 567.29L505.16 572.12L505.83 578.1L507.18 592.48L508.55 608.41L509.93 623.77L510.62 630.62L511.32 636.63L512.04 641.66L512.83 645.71L513.31 647.48L514.01 649.3L514.6 650.39L515.04 651.02L515.64 651.74L516.5 652.53L517.71 653.34L518.49 653.7L519.37 653.99L520.33 654.18L521.35 654.25L522.18 654.2L522.99 654.07L524.44 653.6L525.59 652.98L526.47 652.31L527.12 651.67L527.61 651.08L528.29 650.07L529.05 648.44L529.53 647L530.24 643.98L530.86 640.39L531.44 636.12L532.02 631.19L533.15 619.74"/>
<path class="s" d="M521.35 585.86L522.48 574.41L523.06 569.48L523.64 565.21L524.26 561.62L524.97 558.6L525.45 557.16L526.21 555.53L526.89 554.52L527.38 553.93L528.03 553.29L528.91 552.62L530.06 552L531.51 551.53L532.32 551.4L533.15 551.35L534.17 551.42L535.13 551.61L536.01 551.9L536.79 552.26L538 553.07L538.86 553.86L539.46 554.58L539.9 555.21L540.49 556.3L541.19 558.12L541.67 559.89L542.46 563.94L542.6 568.97L542.76 574.98L543.89 581.83L545.95 597.19L547.32 613.12L548.67 627.5L549.34 633.48L550 638.31L550.6 641.73L550.97 643.17"/>
<path class="s" d="M527.13 562.43L527.5 563.87L528.1 567.29L528.76 572.12L529.43 578.1L530.78 592.48L532.15 608.41L533.53 623.77L534.22 630.62L534.92 636.63L535.64 641.66L536.43 645.71L536.91 647.48L537.61 649.3L538.2 650.39L538.64 651.02L539.24 651.74L540.1 652.53L541.31 653.34L542.09 653.7L542.97 653.99L543.93 654.18L544.95 654.25L545.78 654.2L546.59 654.07L548.04 653.6L549.19 652.98L550.07 652.31L550.72 651.67L551.21 651.08L551.89 650.07L552.65 648.44L553.13 647L553.84 643.98L554.46 640.39L555.04 636.12L555.62 631.19L556.75 619.74"/>
<path class="k" d="M453.9 552L453.9 560.4"/>
</svg></body></html>
